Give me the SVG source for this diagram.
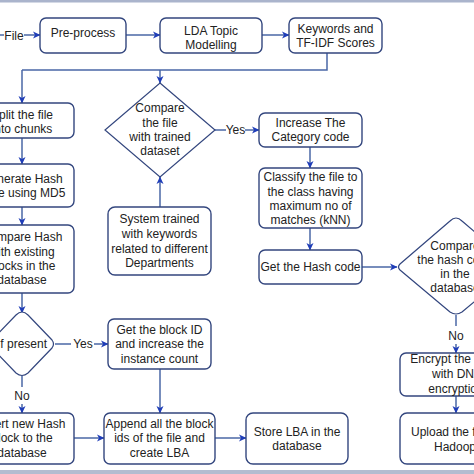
<svg xmlns="http://www.w3.org/2000/svg" width="474" height="474" viewBox="0 0 474 474">
<defs>
<marker id="ah" markerWidth="8" markerHeight="8" refX="7" refY="4" orient="auto" markerUnits="userSpaceOnUse">
<path d="M0,0.5 L7.5,4 L0,7.5 L2,4 Z" fill="#1f3db8"/>
</marker>
</defs>
<style>
.box{fill:#ffffff;stroke:#33467e;stroke-width:1.4}
.dia{fill:#ffffff;stroke:#33467e;stroke-width:1.2}
.ln{fill:none;stroke:#4a67a6;stroke-width:1.5}
.ar{fill:none;stroke:#4a67a6;stroke-width:1.5;marker-end:url(#ah)}
text{font-family:"Liberation Sans",Arial,sans-serif;font-size:12px;fill:#222222;text-anchor:middle}
</style>
<rect x="0" y="0" width="474" height="474" fill="#ffffff"/>
<rect x="0" y="0" width="474" height="2.5" fill="#aab4cc"/>
<rect x="0" y="470" width="474" height="4" fill="#b3bcd0"/>

<g id="connectors">
<path class="ar" d="M0,35 L40,35"/>
<rect x="4" y="27" width="20" height="16" fill="#ffffff"/>
<text x="14" y="39.5">File</text>
<path class="ar" d="M126,35 L160,35"/>
<path class="ar" d="M262,35 L289,35"/>
<path class="ln" d="M327,53 L327,70 L22,70"/>
<path class="ar" d="M22,70 L22,103"/>
<path class="ar" d="M160,70 L160,83"/>
<path class="ar" d="M22,138 L22,164"/>
<path class="ar" d="M22,207 L22,225"/>
<path class="ar" d="M22,293 L22,313"/>
<path class="ar" d="M160,207 L160,177"/>
<path class="ln" d="M215,130 L226,130"/>
<text x="235.5" y="134">Yes</text>
<path class="ar" d="M245,130 L259,130"/>
<path class="ar" d="M310,147 L310,168"/>
<path class="ar" d="M310,228 L310,250"/>
<path class="ar" d="M362,267 L397,267"/>
<path class="ln" d="M456,315 L456,326"/>
<text x="456" y="340">No</text>
<path class="ar" d="M456,344 L456,353"/>
<path class="ar" d="M456,396 L456,413"/>
<path class="ln" d="M55,344 L71,344"/>
<text x="83" y="348">Yes</text>
<path class="ar" d="M94,344 L108,344"/>
<path class="ln" d="M22,376 L22,387"/>
<text x="22" y="400">No</text>
<path class="ar" d="M22,404 L22,413"/>
<path class="ar" d="M160,369 L160,413"/>
<path class="ar" d="M74,438 L104,438"/>
<path class="ar" d="M215,438 L246,438"/>
</g>

<g id="preprocess">
<rect class="box" x="40" y="18" width="86" height="35" rx="6"/>
<text x="83" y="36.5">Pre-process</text>
</g>
<g id="lda">
<rect class="box" x="160" y="18" width="102" height="35" rx="6"/>
<text x="211" y="35">LDA Topic</text>
<text x="211" y="49">Modelling</text>
</g>
<g id="keywords">
<rect class="box" x="289" y="18" width="93" height="35" rx="6"/>
<text x="335.5" y="33">Keywords and</text>
<text x="335.5" y="47">TF-IDF Scores</text>
</g>
<g id="split">
<rect class="box" x="-30" y="103" width="104" height="35" rx="6"/>
<text x="22" y="119">Split the file</text>
<text x="22" y="133">into chunks</text>
</g>
<g id="generate">
<rect class="box" x="-30" y="164" width="104" height="43" rx="6"/>
<text x="22" y="183">Generate Hash</text>
<text x="22" y="197">code using MD5</text>
</g>
<g id="comparehash">
<rect class="box" x="-30" y="225" width="104" height="68" rx="6"/>
<text x="22" y="241">Compare Hash</text>
<text x="22" y="256">with existing</text>
<text x="22" y="270">blocks in the</text>
<text x="22" y="284">database</text>
</g>
<g id="ifpresent">
<path class="dia" d="M22,312 Q25,312 28,315 L52,340 Q55,344 52,348 L28,373 Q22,378 16,373 L-8,348 Q-11,344 -8,340 L16,315 Q19,312 22,312 Z"/>
<text x="22" y="348">If present</text>
</g>
<g id="insert">
<rect class="box" x="-30" y="413" width="104" height="51" rx="6"/>
<text x="22" y="428">Insert new Hash</text>
<text x="22" y="442">block to the</text>
<text x="22" y="457">database</text>
</g>
<g id="comparefile">
<path class="dia" d="M160,83 L215,130 L160,177 L105,130 Z"/>
<text x="160" y="112">Compare</text>
<text x="160" y="127">the file</text>
<text x="160" y="141">with trained</text>
<text x="160" y="155">dataset</text>
</g>
<g id="trained">
<rect class="box" x="108" y="207" width="103" height="68" rx="7"/>
<text x="159.5" y="223">System trained</text>
<text x="159.5" y="238">with keywords</text>
<text x="159.5" y="253">related to different</text>
<text x="159.5" y="267">Departments</text>
</g>
<g id="blockid">
<rect class="box" x="108" y="319" width="103" height="50" rx="6"/>
<text x="159.5" y="334">Get the block ID</text>
<text x="159.5" y="348">and increase the</text>
<text x="159.5" y="363">instance count</text>
</g>
<g id="append">
<rect class="box" x="104" y="413" width="111" height="51" rx="6"/>
<text x="159.5" y="428">Append all the block</text>
<text x="159.5" y="442">ids of the file  and</text>
<text x="159.5" y="457">create LBA</text>
</g>
<g id="increase">
<rect class="box" x="259" y="113" width="103" height="34" rx="6"/>
<text x="310.5" y="127">Increase The</text>
<text x="310.5" y="141">Category code</text>
</g>
<g id="classify">
<rect class="box" x="259" y="168" width="103" height="60" rx="6"/>
<text x="310.5" y="181">Classify the file to</text>
<text x="310.5" y="196">the class having</text>
<text x="310.5" y="210">maximum no of</text>
<text x="310.5" y="224">matches (kNN)</text>
</g>
<g id="gethash">
<rect class="box" x="259" y="250" width="103" height="34" rx="6"/>
<text x="310.5" y="271">Get the Hash code</text>
</g>
<g id="store">
<rect class="box" x="246" y="413" width="102" height="51" rx="7"/>
<text x="297" y="436">Store LBA in the</text>
<text x="297" y="450">database</text>
</g>
<g id="comparehashcode">
<path class="dia" d="M456,218 Q459,218 462,221 L512,264 Q515,267 512,270 L462,312 Q456,316 450,312 L400,270 Q397,267 400,264 L450,221 Q453,218 456,218 Z"/>
<text x="455" y="250">Compare</text>
<text x="455" y="264">the hash code</text>
<text x="455" y="278">in the</text>
<text x="455" y="292">database</text>
</g>
<g id="encrypt">
<rect class="box" x="400" y="353" width="112" height="43" rx="6"/>
<text x="450" y="363">Encrypt the file</text>
<text x="457" y="378">with DNA</text>
<text x="456" y="393">encryption</text>
</g>
<g id="upload">
<rect class="box" x="400" y="413" width="112" height="51" rx="7"/>
<text x="456" y="436">Upload the file to</text>
<text x="455" y="451">Hadoop</text>
</g>
</svg>
